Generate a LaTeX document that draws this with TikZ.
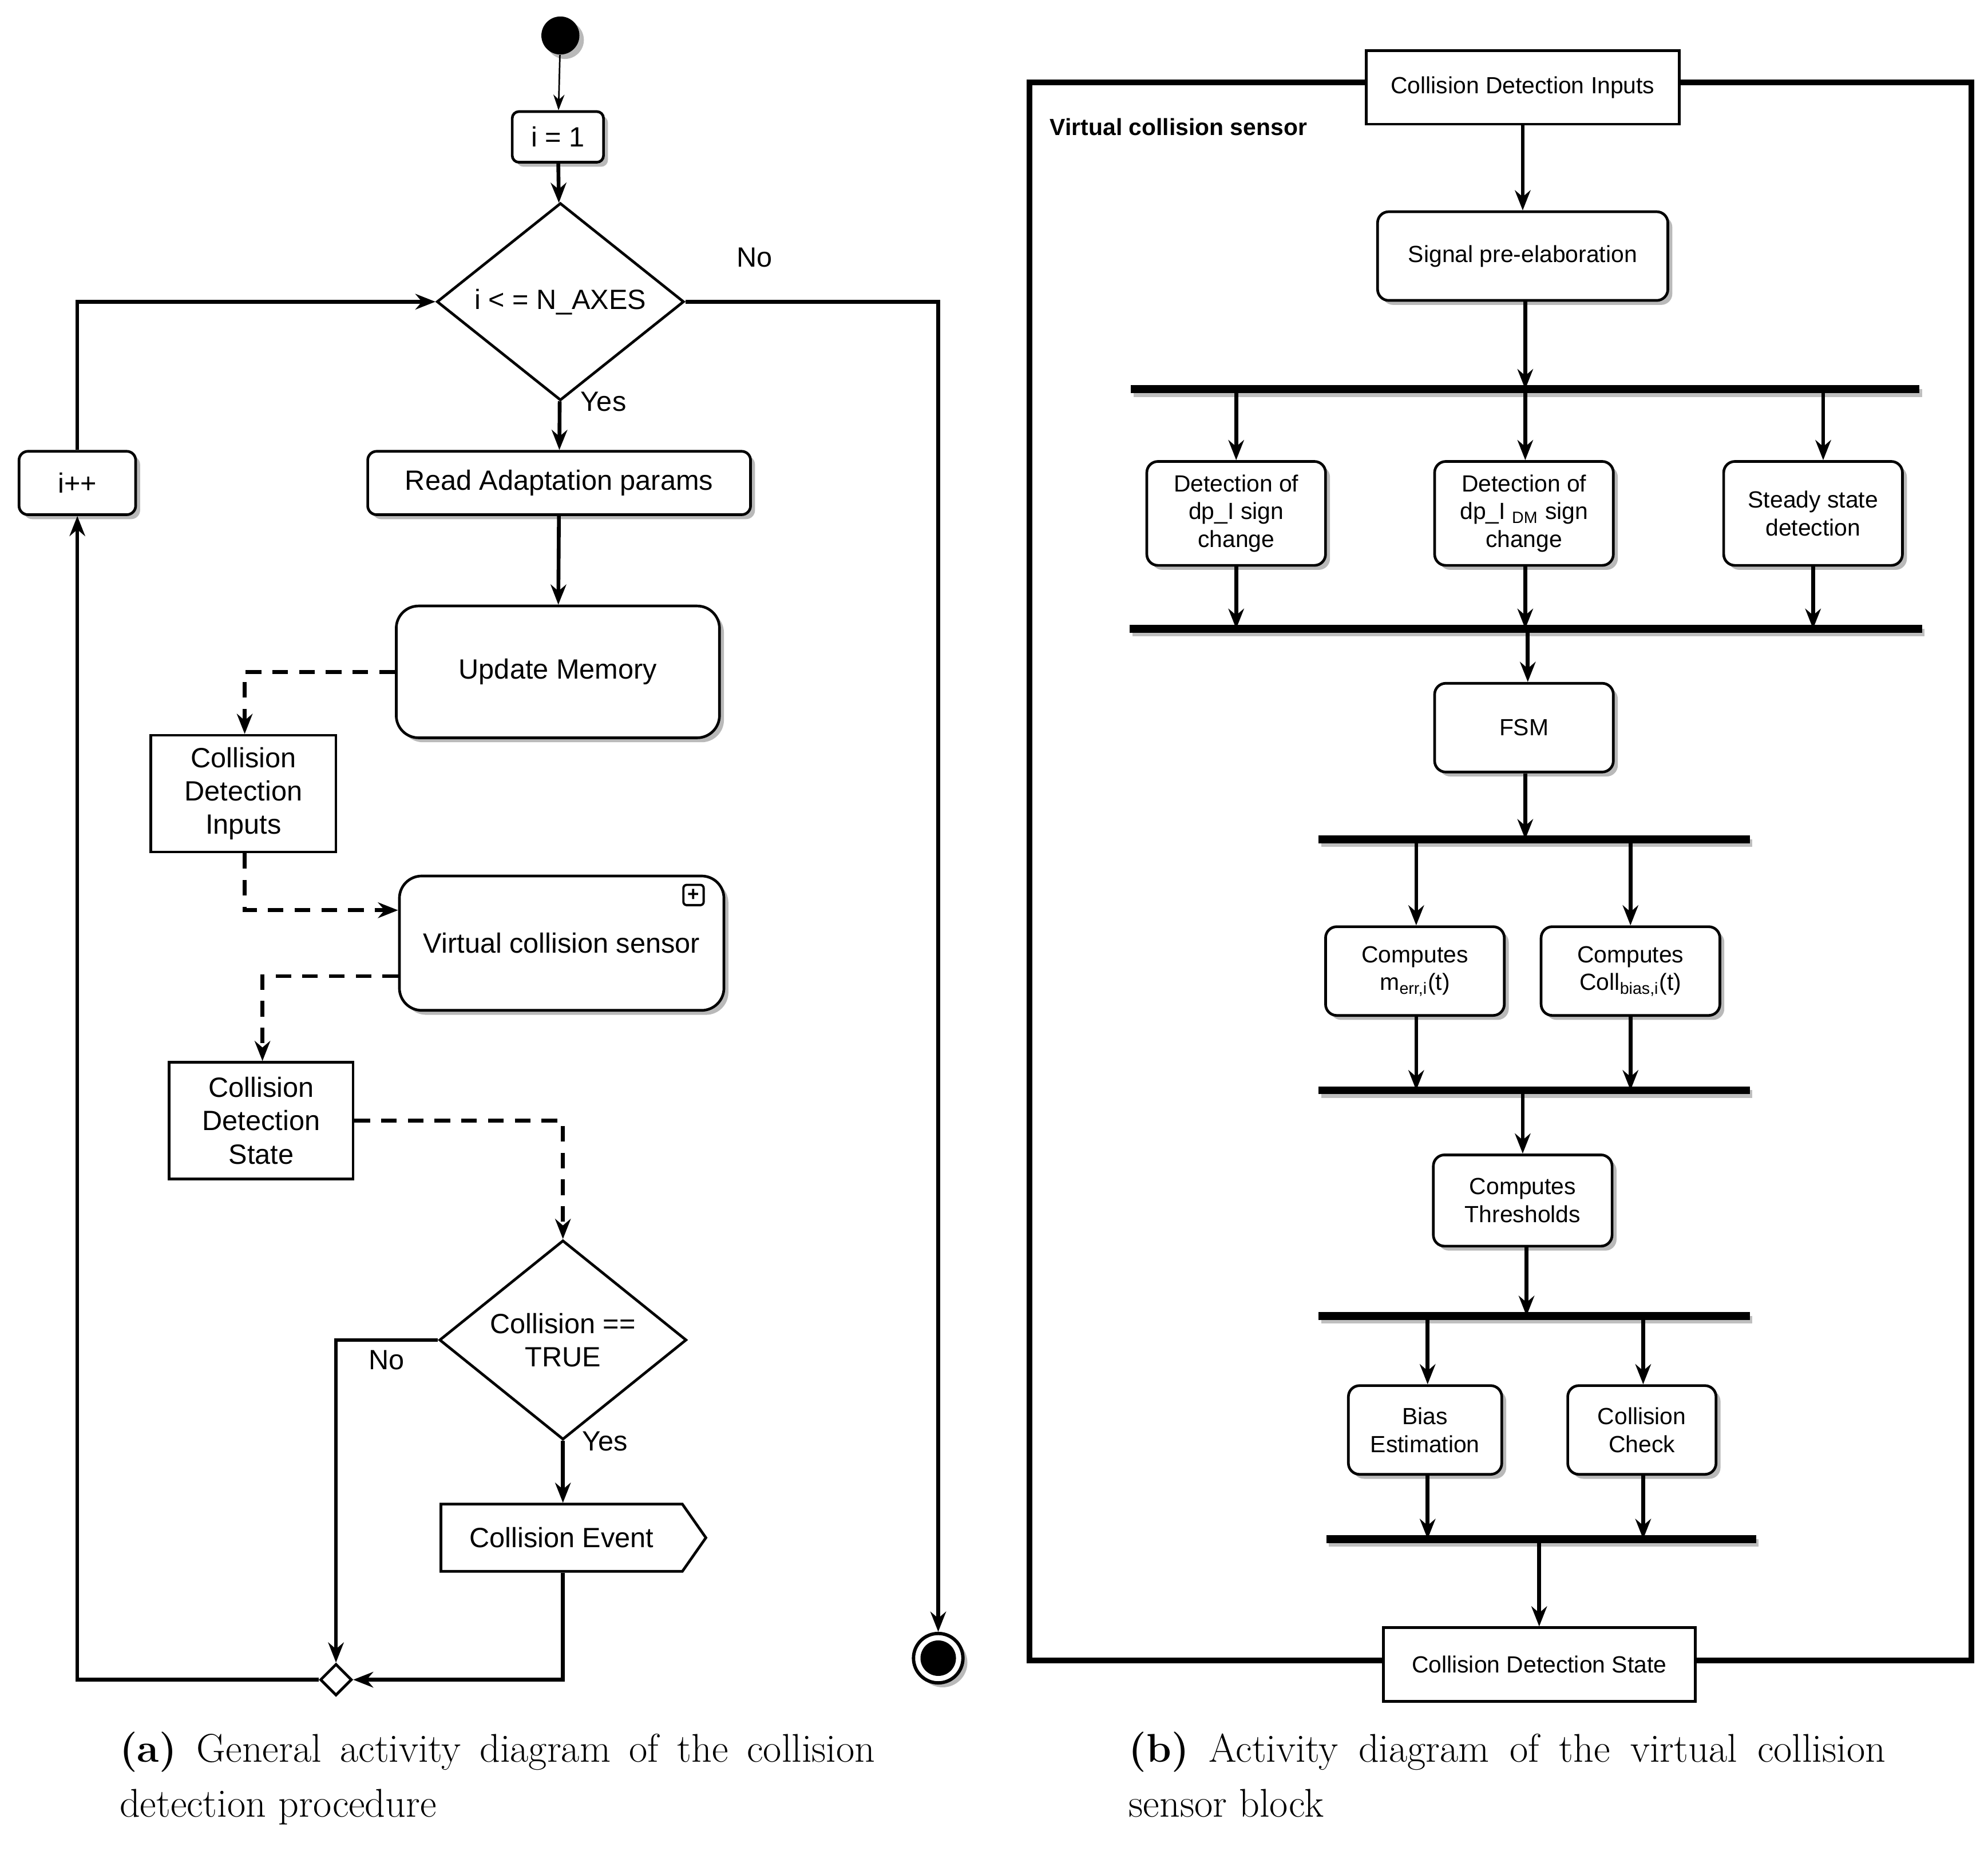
\documentclass[tikz,border=0pt]{standalone}
\usepackage{fontspec}
\setmainfont{Liberation Sans}
\newfontfamily\capfont{Latin Modern Roman}
\usetikzlibrary{shapes.geometric,shapes.symbols,shadows,arrows.meta}
\begin{document}
\begin{tikzpicture}[x=0.02cm,y=-0.02cm,
  shd/.style={drop shadow={shadow xshift=2pt,shadow yshift=-2pt,fill=gray!55,opacity=1}},
  box/.style={draw,line width=1.2pt,fill=white,align=center,inner sep=1pt,font=\fontsize{12.5}{15}\selectfont},
  rbox/.style={box,shd,rounded corners=4pt},
  sbox/.style={draw,line width=1.2pt,fill=white,align=center,inner sep=1pt,rounded corners=5pt,shd,font=\fontsize{10.5}{12.5}\selectfont},
  dia/.style={diamond,draw,line width=1.2pt,fill=white,align=center,inner sep=0pt,font=\fontsize{12.5}{15}\selectfont},
  arr/.style={line width=1.7pt,-{Stealth[length=9pt,width=7pt]}},
  darr/.style={arr,dash pattern=on 7pt off 5pt},
  bar/.style={line width=3.5pt},
  lbl/.style={font=\fontsize{12.5}{15}\selectfont}]
\useasboundingbox (0,0) rectangle (1568,1460);
% ---------- left ----------
\node[circle,fill=black,minimum size=0.6cm,inner sep=0,shd] (start) at (442,28) {};
\node[rbox,rounded corners=3pt,minimum width=1.44cm,minimum height=0.8cm] (i1) at (440,108) {i = 1};
\node[dia,minimum width=3.9cm,minimum height=2.34cm] (d1) at (442,238) {i < = N\_AXES};
\node[rbox,minimum width=6.04cm,minimum height=1.0cm] (read) at (441,381) {Read Adaptation params};
\node[rbox,rounded corners=10pt,minimum width=5.1cm,minimum height=2.08cm] (upd) at (440,530) {Update Memory};
\node[box,minimum width=2.92cm,minimum height=1.84cm] (cdi) at (192,626) {Collision\\Detection\\Inputs};
\node[rbox,rounded corners=10pt,minimum width=5.12cm,minimum height=2.12cm] (vcs) at (443,744) {Virtual collision sensor};
\node[draw,line width=1pt,rounded corners=1.5pt,minimum size=0.32cm,inner sep=0,font=\bfseries\fontsize{9}{9}\selectfont] (plus) at (547,706) {+};
\node[box,minimum width=2.9cm,minimum height=1.84cm] (cds) at (206,884) {Collision\\Detection\\State};
\node[dia,minimum width=3.9cm,minimum height=2.36cm] (d2) at (444,1057) {Collision ==\\TRUE};
\node[signal,signal to=east,signal pointer angle=110,draw,line width=1.2pt,fill=white,minimum width=4.18cm,minimum height=1.06cm,inner sep=0,font=\fontsize{12.5}{15}\selectfont] (ce) at (443,1213) {Collision Event};
\node[diamond,draw,line width=1.2pt,fill=white,minimum size=0.5cm,inner sep=0] (mg) at (265,1325) {};
\node[rbox,minimum width=1.84cm,minimum height=1.0cm] (inc) at (61,381) {i++};
\node[circle,draw,line width=1.5pt,fill=white,minimum size=0.78cm,inner sep=0,shd] (end) at (740,1308) {};
\node[circle,fill=black,minimum size=0.56cm,inner sep=0] (endin) at (740,1308) {};
\node[lbl] (no1) at (595,203) {No};
\node[lbl] (yes1) at (476,317) {Yes};
\node[lbl] (no2) at (305,1073) {No};
\node[lbl] (yes2) at (477,1137) {Yes};
\draw[line width=0.7pt,-{Stealth[length=7pt,width=5pt]}] (start) -- (i1);
\draw[arr] (i1) -- (d1);
\draw[arr] (d1) -- (read);
\draw[arr] (read) -- (upd);
\draw[darr] (upd.west) -- (193,530) -- (cdi.north -| 193,0);
\draw[darr] (cdi.south -| 193,0) -- (193,718) -- (vcs.west |- 0,718);
\draw[darr] (vcs.west |- 0,770) -- (207,770) -- (cds.north -| 207,0);
\draw[darr] (cds.east) -- (444,884) -- (d2.north);
\draw[arr] (d2.west) -- (265,1057) -- (mg.north);
\draw[arr] (d2.south) -- (ce.north -| d2.south);
\draw[arr] (ce.south -| 444,0) -- (444,1325) -- (mg.east);
\draw[arr] (mg.west) -- (61,1325) -- (inc.south);
\draw[arr] (inc.north) -- (61,238) -- (d1.west);
\draw[arr] (d1.east) -- (740,238) -- (end.north);
% ---------- right ----------
\draw[line width=2.6pt] (812,65) rectangle (1555,1310);
\node[anchor=west,font=\bfseries\fontsize{10.5}{12}\selectfont] (title) at (822,100) {Virtual collision sensor};
\node[box,font=\fontsize{10.5}{12.5}\selectfont,minimum width=4.94cm,minimum height=1.16cm] (rcdi) at (1201,69) {Collision Detection Inputs};
\node[sbox,minimum width=4.58cm,minimum height=1.4cm] (spe) at (1201,202) {Signal pre-elaboration};
\coordinate (b1l) at (892,307); \coordinate (b1r) at (1514,307);
\coordinate (b2l) at (891,496); \coordinate (b2r) at (1516,496);
\coordinate (b3l) at (1040,662); \coordinate (b3r) at (1380,662);
\coordinate (b4l) at (1040,860); \coordinate (b4r) at (1380,860);
\coordinate (b5l) at (1040,1038); \coordinate (b5r) at (1380,1038);
\coordinate (b6l) at (1046,1214); \coordinate (b6r) at (1385,1214);
\foreach \a/\b in {b1l/b1r,b2l/b2r,b3l/b3r,b4l/b4r,b5l/b5r,b6l/b6r}
  {\draw[bar,gray!50] ([shift={(2,3)}]\a) -- ([shift={(2,3)}]\b); \draw[bar] (\a) -- (\b);}
\node[sbox,minimum width=2.82cm,minimum height=1.64cm] (det1) at (975,405) {Detection of\\dp\_I sign\\change};
\node[sbox,minimum width=2.82cm,minimum height=1.64cm] (det2) at (1202,405) {Detection of\\dp\_I \textsubscript{DM} sign\\change};
\node[sbox,minimum width=2.82cm,minimum height=1.64cm] (ss) at (1430,405) {Steady state\\detection};
\node[sbox,minimum width=2.82cm,minimum height=1.4cm] (fsm) at (1202,574) {FSM};
\node[sbox,minimum width=2.82cm,minimum height=1.4cm] (merr) at (1116,766) {Computes\\m\textsubscript{err,i}(t)};
\node[sbox,minimum width=2.82cm,minimum height=1.4cm] (coll) at (1286,766) {Computes\\Coll\textsubscript{bias,i}(t)};
\node[sbox,minimum width=2.82cm,minimum height=1.44cm] (th) at (1201,947) {Computes\\Thresholds};
\node[sbox,minimum width=2.42cm,minimum height=1.4cm] (be) at (1124,1128) {Bias\\Estimation};
\node[sbox,minimum width=2.34cm,minimum height=1.4cm] (cc) at (1295,1128) {Collision\\Check};
\node[box,font=\fontsize{10.5}{12.5}\selectfont,minimum width=4.92cm,minimum height=1.16cm] (rcds) at (1214,1313) {Collision Detection State};
\draw[arr] (rcdi) -- (spe);
\draw[arr] (spe.south -| 1203,0) -- (1203,307);
\draw[arr] (975,307) -- (det1.north -| 975,0);
\draw[arr] (1203,307) -- (det2.north -| 1203,0);
\draw[arr] (1438,307) -- (ss.north -| 1438,0);
\draw[arr] (det1.south -| 975,0) -- (975,496);
\draw[arr] (det2.south -| 1203,0) -- (1203,496);
\draw[arr] (ss.south -| 1430,0) -- (1430,496);
\draw[arr] (1205,496) -- (fsm.north -| 1205,0);
\draw[arr] (fsm.south -| 1203,0) -- (1203,662);
\draw[arr] (1117,662) -- (merr.north -| 1117,0);
\draw[arr] (1286,662) -- (coll.north -| 1286,0);
\draw[arr] (merr.south -| 1117,0) -- (1117,860);
\draw[arr] (coll.south -| 1286,0) -- (1286,860);
\draw[arr] (1201,860) -- (th.north -| 1201,0);
\draw[arr] (th.south -| 1204,0) -- (1204,1038);
\draw[arr] (1126,1038) -- (be.north -| 1126,0);
\draw[arr] (1296,1038) -- (cc.north -| 1296,0);
\draw[arr] (be.south -| 1126,0) -- (1126,1214);
\draw[arr] (cc.south -| 1296,0) -- (1296,1214);
\draw[arr] (1214,1214) -- (rcds.north -| 1214,0);
% ---------- captions ----------
\node[anchor=north west,text width=11.92cm,align=justify,inner sep=0,font=\capfont\fontsize{18}{24.5}\selectfont] (capa) at (94,1366) {\textbf{(a)}\enspace General activity diagram of the collision detection procedure};
\node[anchor=north west,text width=11.94cm,align=justify,inner sep=0,font=\capfont\fontsize{18}{24.5}\selectfont] (capb) at (890,1366) {\textbf{(b)}\enspace Activity diagram of the virtual collision sensor block};
\end{tikzpicture}
\end{document}
